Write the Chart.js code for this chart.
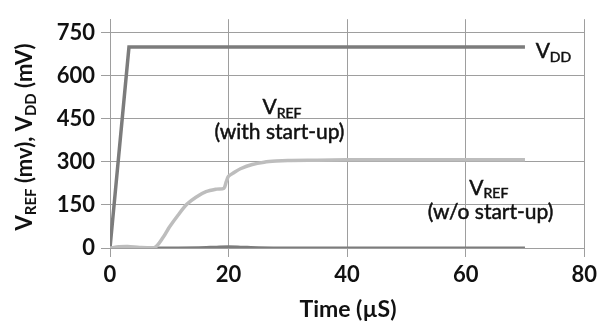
<!DOCTYPE html>
<html>
<head>
<meta charset="utf-8">
<script src="https://cdn.jsdelivr.net/npm/chart.js@4/dist/chart.umd.min.js"></script>
<style>
  html, body { margin: 0; padding: 0; background: #fff; }
  #wrap { width: 602px; height: 324px; }
</style>
</head>
<body>
<div id="wrap"><canvas id="chart"></canvas></div>
<script>
// time in µS, values in mV
const vddTime = [0, 3.2, 70];
const vddValues = [0, 700, 700];

const withTime = [0, 1.5, 3, 5, 7.5, 9, 10, 11.5, 13, 14.5, 16.2, 18, 19.2, 19.6, 20, 21, 22, 24, 26, 28, 30, 35, 40, 50, 60, 70];
const withValues = [0, 4, 5, 2, 1, 38, 72, 115, 153, 177, 196, 205, 208, 230, 250, 264, 276, 291, 299, 303, 305, 306, 307, 307, 307, 307];

const woTime = [0, 8, 15, 18, 20, 22, 25, 30, 70];
const woValues = [0, 0, 1, 3, 4, 3, 1, 0, 0];

const xTicks = [0, 20, 40, 60, 80];
const yTicks = [0, 150, 300, 450, 600, 750];

const yTitle = [['V', false], ['REF', true], [' (mv), V', false], ['DD', true], [' (mV)', false]];

// text labels placed in data units
const notes = [
  { segs: [['V', false], ['DD', true]], x: 71.8, y: 662, align: 'left' },
  { segs: [['V', false], ['REF', true]], x: 29.0, y: 466, align: 'center' },
  { segs: [['(with start-up)', false]], x: 28.6, y: 378, align: 'center' },
  { segs: [['V', false], ['REF', true]], x: 63.9, y: 186, align: 'center' },
  { segs: [['(w/o start-up)', false]], x: 64.2, y: 101, align: 'center' }
];

const FONT = 'Lato, "Open Sans", sans-serif';

function pts(t, v) {
  return t.map((x, i) => ({ x: x, y: v[i] }));
}

function richWidth(ctx, segs, size, weight) {
  let w = 0;
  for (const [s, sub] of segs) {
    ctx.font = weight + ' ' + (sub ? Math.round(size * 0.68) : size) + 'px ' + FONT;
    w += ctx.measureText(s).width;
  }
  return w;
}

function drawRich(ctx, segs, x, y, align, size, weight, stroke) {
  const w = richWidth(ctx, segs, size, weight);
  let cx = align === 'center' ? x - w / 2 : x;
  ctx.textBaseline = 'alphabetic';
  ctx.textAlign = 'left';
  for (const [s, sub] of segs) {
    ctx.font = weight + ' ' + (sub ? Math.round(size * 0.68) : size) + 'px ' + FONT;
    const yy = sub ? y + size * 0.18 : y;
    ctx.fillText(s, cx, yy);
    if (stroke) ctx.strokeText(s, cx, yy);
    cx += ctx.measureText(s).width;
  }
}

const textPlugin = {
  id: 'texts',
  afterDraw(chart) {
    const ctx = chart.ctx;
    const xs = chart.scales.x, ys = chart.scales.y;
    ctx.save();
    ctx.fillStyle = '#111';
    ctx.strokeStyle = '#111';
    ctx.lineWidth = 0.5;
    for (const n of notes) {
      drawRich(ctx, n.segs, xs.getPixelForValue(n.x), ys.getPixelForValue(n.y), n.align, 21, 'normal', true);
    }
    // x axis title
    ctx.font = 'bold 23px ' + FONT;
    ctx.textAlign = 'center';
    ctx.textBaseline = 'middle';
    ctx.fillText('Time (µS)', 348, 310);
    // y axis title, rotated
    ctx.translate(32, 137);
    ctx.rotate(-Math.PI / 2);
    drawRich(ctx, yTitle, 0, 0, 'center', 22, 'bold', false);
    ctx.restore();
  }
};

new Chart(document.getElementById('chart'), {
  type: 'line',
  data: {
    datasets: [
      {
        label: 'VREF (with start-up)',
        data: pts(withTime, withValues),
        borderColor: '#bdbdbd',
        borderWidth: 3.5,
        tension: 0.3,
        order: 0
      },
      {
        label: 'VDD',
        data: pts(vddTime, vddValues),
        borderColor: '#7c7c7c',
        borderWidth: 3.5,
        tension: 0,
        order: 1
      },
      {
        label: 'VREF (w/o start-up)',
        data: pts(woTime, woValues),
        borderColor: '#7c7c7c',
        borderWidth: 3,
        tension: 0.3,
        order: 2
      }
    ]
  },
  options: {
    responsive: true,
    maintainAspectRatio: false,
    animation: false,
    layout: { padding: { top: 12, right: 12, left: 0, bottom: 0 } },
    elements: {
      point: { radius: 0 },
      line: { borderCapStyle: 'butt' }
    },
    plugins: {
      legend: { display: false },
      tooltip: { enabled: false }
    },
    scales: {
      x: {
        type: 'linear',
        min: 0,
        max: 80,
        afterBuildTicks: s => { s.ticks = xTicks.map(v => ({ value: v })); },
        afterFit: s => { s.height = 76; },
        grid: { color: '#9e9e9e', lineWidth: 1, tickLength: 9 },
        border: { color: '#9e9e9e' },
        ticks: { color: '#111', padding: 5, font: { family: FONT, size: 22, weight: 'bold' } }
      },
      y: {
        min: 0,
        max: 797,
        afterBuildTicks: s => { s.ticks = yTicks.map(v => ({ value: v })); },
        afterFit: s => { s.width = 110; },
        grid: { color: '#9e9e9e', lineWidth: 1, tickLength: 9 },
        border: { color: '#9e9e9e' },
        ticks: { color: '#111', padding: 6, font: { family: FONT, size: 22, weight: 'bold' } }
      }
    }
  },
  plugins: [textPlugin]
});
</script>
</body>
</html>
